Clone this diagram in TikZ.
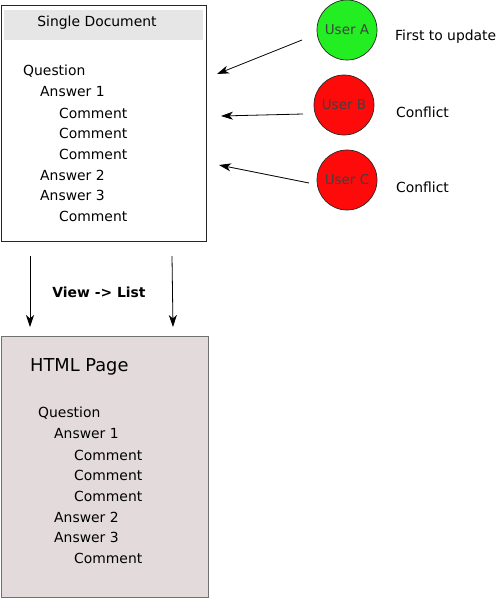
\documentclass[tikz,border=0pt]{standalone}
\usepackage{fontspec}
\setmainfont{DejaVu Sans}
\usetikzlibrary{arrows.meta}
\definecolor{hdrgray}{HTML}{E6E6E6}
\definecolor{pagefill}{HTML}{E3DBDB}
\definecolor{pageedge}{HTML}{707070}
\definecolor{ugreen}{HTML}{22EE22}
\definecolor{ured}{HTML}{FF0A0A}
\tikzset{
  txt/.style={anchor=west, inner sep=0pt, font=\fontsize{13.9}{16}\selectfont},
  user/.style={circle, draw=black!85, line width=0.7pt, minimum size=60pt, inner sep=0pt, font=\fontsize{13.5}{15}\selectfont, text=black!75},
  arr/.style={-{Stealth[length=12pt,width=8pt,inset=3.5pt]}, line width=0.8pt},
}
\begin{document}
\begin{tikzpicture}[x=1pt,y=-1pt]
\useasboundingbox (0,0) rectangle (496,598);
% top box
\node[draw=black!85, line width=0.8pt, minimum width=205pt, minimum height=236pt, anchor=north west, inner sep=0pt] (doc) at (1,5) {};
\node[fill=hdrgray, minimum width=199pt, minimum height=30pt, anchor=north west, inner sep=0pt] (hdr) at (4,10) {};
\node[inner sep=0pt, font=\fontsize{13.9}{16}\selectfont] (title) at (97,23) {Single Document};
\node[txt] (q1) at (23,71) {Question};
\node[txt] (a11) at (40,92) {Answer 1};
\node[txt] (c11) at (59,113) {Comment};
\node[txt] (c12) at (59,133) {Comment};
\node[txt] (c13) at (59,154) {Comment};
\node[txt] (a12) at (40,175) {Answer 2};
\node[txt] (a13) at (40,195) {Answer 3};
\node[txt] (c14) at (59,216) {Comment};
% users
\node[user, fill=ugreen] (ua) at (347,30) {User A};
\node[user, fill=ured] (ub) at (344,105) {User B};
\node[user, fill=ured] (uc) at (347,180) {User C};
\node[txt] (la) at (395,37) {First to update};
\node[txt] (lb) at (396,112) {Conflict};
\node[txt] (lc) at (396,187) {Conflict};
% arrow endpoints
\coordinate (sa) at (302,40);
\coordinate (ea) at (217,74);
\coordinate (sb) at (303,114);
\coordinate (eb) at (221,116);
\coordinate (sc) at (309,183);
\coordinate (ec) at (219,165);
\draw[arr] (sa) -- (ea);
\draw[arr] (sb) -- (eb);
\draw[arr] (sc) -- (ec);
% bottom page
\node[draw=pageedge, fill=pagefill, line width=0.8pt, minimum width=207pt, minimum height=261pt, anchor=north west, inner sep=0pt] (page) at (1,336) {};
\coordinate (d1s) at (30,256);
\coordinate (d1e) at (30,327);
\coordinate (d2s) at (172,256);
\coordinate (d2e) at (173,327);
\draw[arr] (d1s) -- (d1e);
\draw[arr] (d2s) -- (d2e);
\node[inner sep=0pt, anchor=center, font=\bfseries\fontsize{13.9}{16}\selectfont] (view) at (99,292) {View -> List};
\node[txt, font=\fontsize{17.8}{20}\selectfont] (ptitle) at (30,367) {HTML Page};
\node[txt] (q2) at (38,413) {Question};
\node[txt] (a21) at (54,434) {Answer 1};
\node[txt] (c21) at (74,455) {Comment};
\node[txt] (c22) at (74,475) {Comment};
\node[txt] (c23) at (74,496) {Comment};
\node[txt] (a22) at (54,517) {Answer 2};
\node[txt] (a23) at (54,537) {Answer 3};
\node[txt] (c24) at (74,558) {Comment};
\end{tikzpicture}
\end{document}
